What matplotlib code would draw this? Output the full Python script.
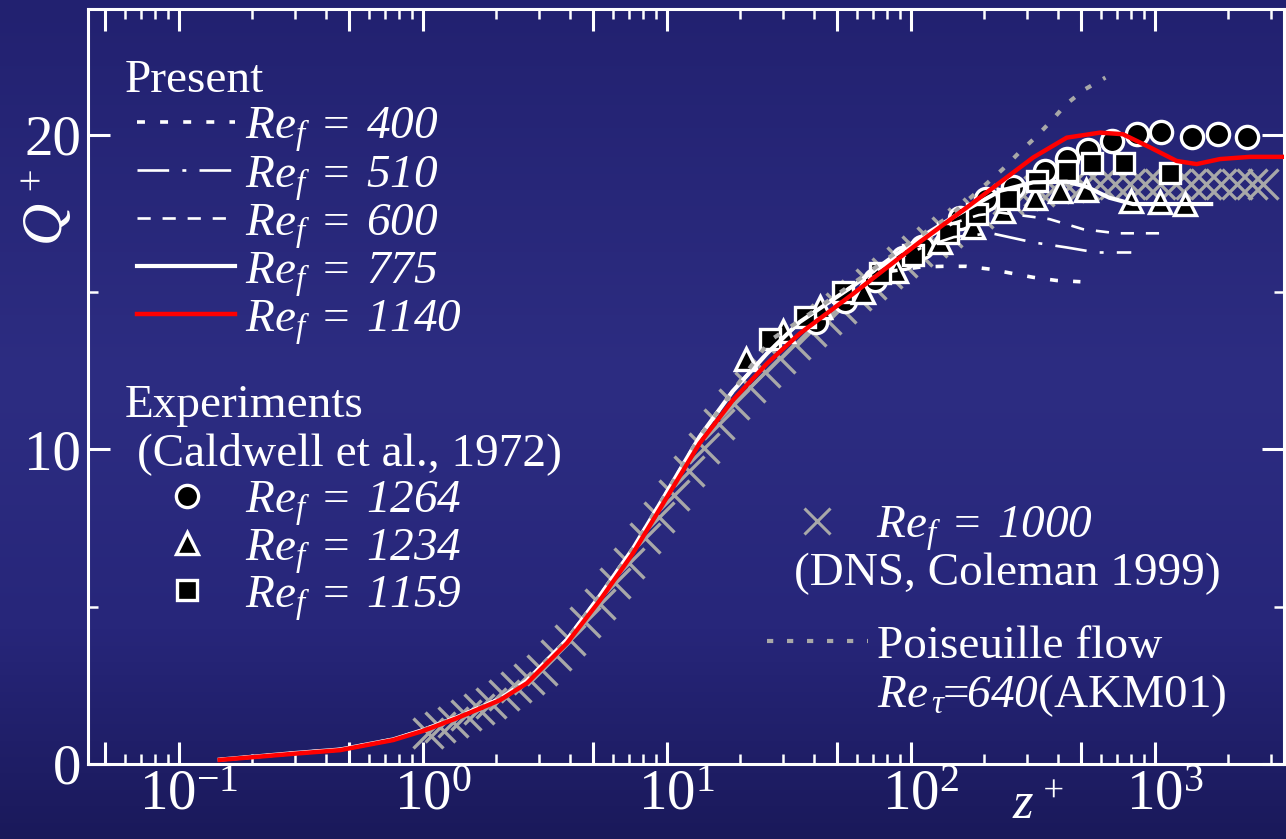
import numpy as np
import matplotlib
matplotlib.use('Agg')
import matplotlib.pyplot as plt
import matplotlib.transforms as mtrans
from matplotlib.lines import Line2D
from matplotlib.colors import LinearSegmentedColormap
from matplotlib.ticker import LogLocator, FuncFormatter, FixedLocator

plt.rcParams['font.family'] = ['Liberation Serif', 'DejaVu Serif']
# math text is italic throughout (digits too); upright math goes through \mathsf
plt.rcParams['mathtext.fontset'] = 'custom'
plt.rcParams['mathtext.rm'] = 'Liberation Serif:italic'
plt.rcParams['mathtext.it'] = 'Liberation Serif:italic'
plt.rcParams['mathtext.sf'] = 'Liberation Serif'
plt.rcParams['mathtext.bf'] = 'Liberation Serif:bold'

# ---- data ----
z_red = [0.147, 0.3, 0.457, 0.754, 1.0, 1.37, 2.07, 2.67, 3.89, 5.31, 7.26, 10.0, 13.6, 18.6,
         25.7, 35.0, 58.0, 109, 170, 232, 317, 435, 595, 739, 955, 1227, 1482, 1849, 2450, 3440]
q_red = [0.13, 0.33, 0.44, 0.76, 1.05, 1.45, 2.03, 2.57, 3.84, 5.2, 6.7, 8.48, 10.19, 11.56,
         12.73, 13.68, 14.95, 16.6, 17.7, 18.49, 19.28, 19.91, 20.07, 20.02, 19.6, 19.17, 19.07, 19.23, 19.3, 19.3]

z_low = [0.147, 0.3, 0.457, 0.754, 1.0, 1.37, 2.07, 2.67, 3.89, 5.31, 7.26, 10.0, 13.6, 18.6, 25.7, 35.0, 58.0]
q_low = [0.14, 0.35, 0.46, 0.78, 1.08, 1.48, 2.07, 2.65, 3.95, 5.35, 6.85, 8.65, 10.4, 11.85, 13.05, 14.05, 15.2]

z_400 = z_low + [80, 110, 135, 169, 211, 258, 317, 395, 495]
q_400 = q_low + [15.65, 15.8, 15.82, 15.82, 15.73, 15.6, 15.47, 15.37, 15.33]
z_510 = z_low + [80, 110, 150, 214, 317, 435, 575, 800]
q_510 = q_low + [15.9, 16.4, 16.75, 16.87, 16.58, 16.42, 16.26, 16.26]
z_600 = z_low + [80, 110, 150, 190, 232, 370, 507, 697, 1080]
q_600 = q_low + [15.95, 16.6, 17.2, 17.45, 17.53, 17.32, 17.0, 16.87, 16.87]
z_775 = z_low + [80, 110, 150, 232, 317, 435, 524, 650, 812, 1700]
q_775 = q_low + [16.0, 16.75, 17.4, 18.22, 18.49, 18.51, 18.35, 18.0, 17.8, 17.8]

z_poi = [1.0, 1.37, 2.07, 2.67, 3.89, 5.31, 7.26, 10.0, 13.6, 18.6, 26.4, 37.5, 63.6, 100,
         145, 173, 203, 238, 278, 326, 376, 432, 517, 627]
q_poi = [1.08, 1.48, 2.07, 2.65, 3.95, 5.35, 6.85, 8.65, 10.4, 11.85, 13.46, 14.25, 15.5, 16.6,
         17.43, 17.96, 18.43, 18.91, 19.44, 19.94, 20.44, 20.97, 21.45, 21.82]

z_dns = [1.05, 1.18, 1.33, 1.5, 1.69, 1.9, 2.14, 2.41, 2.72, 3.07, 3.5, 4.0, 4.6, 5.3, 6.1, 7.0,
         8.1, 9.3, 10.7, 12.3, 14.2, 16.4, 18.9, 21.8, 25.2, 29.1, 33.6, 38.8, 44.8, 51.7, 59.7,
         68.9, 79.5, 91.8, 106, 122, 141, 163, 188, 217, 250, 289, 334, 385, 445, 513, 593, 684,
         790, 912, 1053, 1216, 1403, 1620, 1870, 2159, 2492, 2770]
q_dns = [1.0, 1.18, 1.35, 1.55, 1.75, 1.95, 2.2, 2.45, 2.7, 3.0, 3.45, 3.95, 4.5, 5.1, 5.75, 6.4,
         7.2, 7.85, 8.55, 9.3, 10.05, 10.8, 11.45, 12.0, 12.45, 12.9, 13.35, 13.75, 14.15, 14.5, 14.9,
         15.25, 15.6, 15.95, 16.3, 16.6, 16.9, 17.2, 17.5, 17.75, 17.95, 18.1, 18.2, 18.3, 18.35, 18.4, 18.45, 18.45,
         18.45, 18.45, 18.45, 18.45, 18.45, 18.45, 18.45, 18.45, 18.45, 18.45]

z_1264 = [41, 53.7, 71, 93, 111, 159, 204, 262, 354, 435, 533, 664, 841, 1059, 1425, 1820, 2390]
q_1264 = [14.04, 14.73, 15.37, 16.1, 16.42, 17.37, 17.96, 18.33, 18.86, 19.23, 19.51, 19.81, 20.04, 20.1, 19.94, 20.04, 19.94]
z_1234 = [21.1, 30, 42.4, 63.6, 87, 131, 180, 238, 322, 408, 521, 795, 1047, 1327]
q_1234 = [12.88, 13.78, 14.52, 14.99, 15.68, 16.58, 17.06, 17.59, 18.0, 18.2, 18.24, 17.9, 17.85, 17.8]
z_1159 = [26.4, 36.8, 52.8, 74.6, 101.6, 142, 186, 251, 329, 435, 553, 747, 1152]
q_1159 = [13.51, 14.2, 14.99, 15.6, 16.18, 16.87, 17.48, 17.96, 18.54, 18.86, 19.09, 19.1, 18.8]

# ---- figure ----
W, H = 1286, 839
fig = plt.figure(figsize=(W / 100, H / 100), dpi=100)

bg = fig.add_axes([0, 0, 1, 1], zorder=-10)
cmap = LinearSegmentedColormap.from_list('bg', [(0.0, '#222170'), (0.45, '#2d2d82'), (0.75, '#27267a'), (1.0, '#1a195a')])
bg.imshow(np.linspace(0, 1, 256).reshape(-1, 1), aspect='auto', cmap=cmap, extent=[0, 1, 0, 1])
bg.axis('off')


def px(x, y):
    return x / W, 1 - y / H


ax = fig.add_axes([88 / W, (H - 764) / H, (1284 - 88) / W, (764 - 9) / H])
ax.set_facecolor('none')
ax.set_xscale('log')
ax.set_xlim(0.0424, 3380)
ax.set_ylim(0, 24)

WHITE = 'white'
GRAY = '#a8a8a8'

ax.plot(z_dns, q_dns, ls='none', marker='x', ms=21, mew=2.4, color=GRAY, zorder=2)
mk = dict(ls='none', mfc='black', mec=WHITE, mew=2.4, zorder=3)
ax.plot(z_1264, q_1264, marker='o', ms=16, **mk)
ax.plot(z_1234, q_1234, marker='^', ms=16, **mk)
ax.plot(z_1159, q_1159, marker='s', ms=15, **mk)

st_400 = dict(color=WHITE, lw=2.6, ls=(0, (2.2, 4.2)))
st_510 = dict(color=WHITE, lw=1.9, ls=(0, (12, 5, 1.5, 5)))
st_600 = dict(color=WHITE, lw=1.9, ls=(0, (5, 4.5)))
st_775 = dict(color=WHITE, lw=3.0, ls='-')
st_red = dict(color='#ff0000', lw=3.2, ls='-')
st_poi = dict(color=GRAY, lw=3.0, ls=(0, (1.5, 3.3)))

ax.plot(z_400, q_400, zorder=4, **st_400)
ax.plot(z_510, q_510, zorder=4, **st_510)
ax.plot(z_600, q_600, zorder=4, **st_600)
ax.plot(z_775, q_775, zorder=4, **st_775)
ax.plot(z_poi, q_poi, zorder=5, **st_poi)
ax.plot(z_red, q_red, zorder=6, **st_red)

# ---- axes styling ----
for s in ax.spines.values():
    s.set_color(WHITE)
    s.set_linewidth(2.2)

ax.xaxis.set_major_locator(LogLocator(base=10, subs=(1.0, 5.0), numticks=20))
ax.xaxis.set_minor_locator(LogLocator(base=10, subs=(2, 3, 4, 6, 7, 8, 9), numticks=20))


def xfmt(v, pos):
    e = np.log10(v)
    if abs(e - round(e)) < 1e-6:
        return r'$\mathsf{10^{%d}}$' % round(e)
    return ''


ax.xaxis.set_major_formatter(FuncFormatter(xfmt))
ax.xaxis.set_minor_formatter(FuncFormatter(lambda v, p: ''))
ax.yaxis.set_major_locator(FixedLocator([0, 10, 20]))
ax.yaxis.set_minor_locator(FixedLocator([5, 15]))
ax.set_yticklabels(['0', '10', '20'])

ax.tick_params(which='both', direction='in', top=True, right=True, colors=WHITE, labelsize=41)
ax.tick_params(which='major', length=16, width=2.2)
ax.tick_params(which='minor', length=7.5, width=1.8)
ax.tick_params(axis='x', pad=4)
ax.tick_params(axis='y', pad=5)

fig.text(*px(48, 207), r'$Q^+$', rotation=90, color=WHITE, fontsize=42, ha='center', va='center')
fig.text(*px(1038, 806), r'$z^+$', color=WHITE, fontsize=38, ha='center', va='center')

# ---- legend (Present) ----
FS = 34
fig.text(*px(125, 92), 'Present', color=WHITE, fontsize=FS, va='baseline')
rows = [('400', st_400), ('510', st_510), ('600', st_600), ('775', st_775), ('1140', st_red)]
for i, (lab, st) in enumerate(rows):
    yl = 122 + 48 * i
    x0, y0 = px(137, yl)
    x1, _ = px(235, yl)
    fig.add_artist(Line2D([x0, x1], [y0, y0], transform=fig.transFigure, **st))
    fig.text(*px(245, 139 + 48.2 * i), r'$Re_f\:=\:%s$' % lab,
             color=WHITE, fontsize=FS, va='baseline')

# ---- legend (Experiments) ----
fig.text(*px(125, 417), 'Experiments', color=WHITE, fontsize=FS, va='baseline')
fig.text(*px(137, 465), '(Caldwell et al., 1972)', color=WHITE, fontsize=FS, va='baseline')
exp_rows = [('1264', 'o', 16, 496, 513), ('1234', '^', 16, 543, 561), ('1159', 's', 15, 590, 608)]
for lab, m, ms, ym, yb in exp_rows:
    x0, y0 = px(187, ym)
    fig.add_artist(Line2D([x0], [y0], transform=fig.transFigure, marker=m, ms=ms,
                          mfc='black', mec=WHITE, mew=2.4, ls='none'))
    fig.text(*px(245, yb), r'$Re_f\:=\:%s$' % lab,
             color=WHITE, fontsize=FS, va='baseline')

# ---- legend (DNS, Poiseuille) ----
x0, y0 = px(817, 521)
fig.add_artist(Line2D([x0], [y0], transform=fig.transFigure, marker='x', ms=19, mew=2.2,
                      color=GRAY, ls='none'))
fig.text(*px(876, 538), r'$Re_f\:=\:1000$', color=WHITE, fontsize=FS, va='baseline')
fig.text(*px(794, 585), '(DNS, Coleman 1999)', color=WHITE, fontsize=FS, va='baseline')
x0, y0 = px(767, 641)
x1, _ = px(868, 641)
fig.add_artist(Line2D([x0, x1], [y0, y0], transform=fig.transFigure, **st_poi))
fig.text(*px(877, 658), 'Poiseuille flow', color=WHITE, fontsize=FS, va='baseline')
fig.text(*px(877, 707), r'$Re_{\,\tau}\!\!=\!\!640$(AKM01)', color=WHITE, fontsize=FS, va='baseline')

# nudge the decade labels right, as in the original layout
fig.canvas.draw()
shift = mtrans.ScaledTranslation(10 / 100, 0, fig.dpi_scale_trans)
for t in ax.xaxis.get_major_ticks():
    t.label1.set_transform(t.label1.get_transform() + shift)

fig.savefig('out.png', dpi=100)
